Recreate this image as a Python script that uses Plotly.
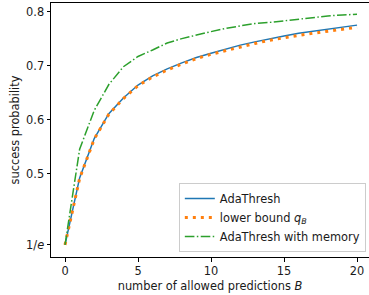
import plotly.graph_objects as go
import math

B = list(range(21))
ada = [0.368, 0.492, 0.565, 0.611, 0.640, 0.664, 0.681, 0.694, 0.705, 0.715, 0.723,
       0.731, 0.738, 0.744, 0.750, 0.755, 0.760, 0.764, 0.768, 0.772, 0.775]
lower = [0.368, 0.491, 0.564, 0.610, 0.639, 0.663, 0.679, 0.692, 0.703, 0.713, 0.721,
         0.728, 0.735, 0.741, 0.747, 0.752, 0.756, 0.760, 0.764, 0.768, 0.771]
memory = [0.368, 0.545, 0.617, 0.665, 0.698, 0.717, 0.729, 0.742, 0.750, 0.757, 0.763,
          0.769, 0.774, 0.778, 0.780, 0.783, 0.786, 0.790, 0.792, 0.794, 0.795]

ytickvals = [1 / math.e, 0.5, 0.6, 0.7, 0.8]
yticktext = ["1/<i>e</i>", "0.5", "0.6", "0.7", "0.8"]
xtickvals = [0, 5, 10, 15, 20]

fig = go.Figure()
fig.add_trace(go.Scatter(x=B, y=ada, mode="lines", name="AdaThresh",
                         line=dict(color="#1f77b4", width=1.5)))
fig.add_trace(go.Scatter(x=B, y=lower, mode="lines", name="lower bound <i>q</i><sub><i>B</i></sub>",
                         line=dict(color="#ff7f0e", width=3, dash="3px,5px")))
fig.add_trace(go.Scatter(x=B, y=memory, mode="lines", name="AdaThresh with memory",
                         line=dict(color="#2ca02c", width=1.5, dash="9.6px,2.4px,1.5px,2.4px")))

FS = 11.4
font = dict(family="DejaVu Sans", size=FS, color="#1a1a1a")
fig.update_layout(
    width=369, height=295,
    margin=dict(l=51, r=0, t=3, b=38),
    paper_bgcolor="white", plot_bgcolor="white",
    font=font,
    showlegend=True,
    legend=dict(x=0.99, y=0.02, xanchor="right", yanchor="bottom",
                bgcolor="rgba(255,255,255,0.8)", bordercolor="#cccccc", borderwidth=1,
                font=dict(family="DejaVu Sans", size=FS, color="#1a1a1a"),
                tracegroupgap=0, itemwidth=30),
    xaxis=dict(range=[-0.96, 20.82], tickvals=xtickvals, ticks="outside", ticklen=3.5,
               tickcolor="black", showline=True, linecolor="black", linewidth=1,
               mirror=True, showgrid=False, zeroline=False, automargin=False,
               title=dict(text="number of allowed predictions <i>B</i>", standoff=4,
                          font=font)),
    yaxis=dict(range=[0.3455, 0.816], tickvals=ytickvals, ticktext=yticktext,
               ticks="outside", ticklen=3.5, tickcolor="black", showline=True,
               linecolor="black", linewidth=1, mirror=False, showgrid=False,
               zeroline=False, automargin=False,
               title=dict(text="success probability", standoff=4, font=font)),
)
fig.write_html("out.html", config={"displayModeBar": False},
               post_script="document.body.style.margin='0';")
